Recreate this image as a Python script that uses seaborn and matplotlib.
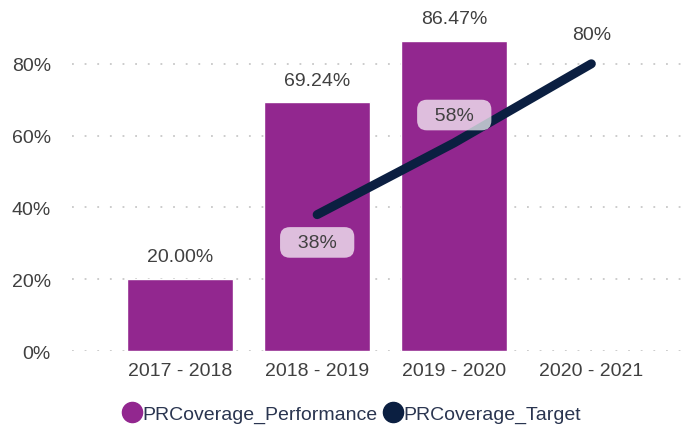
import numpy as np
import pandas as pd
import seaborn as sns
import matplotlib.pyplot as plt
from matplotlib.lines import Line2D

# data
years = ['2017 - 2018', '2018 - 2019', '2019 - 2020', '2020 - 2021']
performance = [0.20, 0.6924, 0.8647, np.nan]
target_years = ['2018 - 2019', '2019 - 2020', '2020 - 2021']
target = [0.38, 0.58, 0.80]
yticks = [0, 0.2, 0.4, 0.6, 0.8]

bar_color = '#92278F'
line_color = '#0B1F41'
text_color = '#404040'
fs = 14

sns.set_theme(style='white')
plt.rcParams['font.family'] = ['Liberation Sans', 'DejaVu Sans']

df = pd.DataFrame({'Year': years, 'PRCoverage_Performance': performance})

fig = plt.figure(figsize=(6.97, 4.31), dpi=100)
ax = fig.add_axes([0.103, 0.183, 0.887, 0.775])

sns.barplot(data=df, x='Year', y='PRCoverage_Performance', color=bar_color,
            saturation=1, width=0.77, ax=ax, zorder=2)

# bar labels
for i, v in enumerate(performance):
    if not np.isnan(v):
        ax.annotate(f'{v*100:.2f}%', (i, v), xytext=(0, 10), textcoords='offset points',
                    ha='center', va='bottom', fontsize=fs, color=text_color)

# target line
tx = [years.index(y) for y in target_years]
sns.lineplot(x=tx, y=target, color=line_color, linewidth=6.5, ax=ax, zorder=3,
             solid_capstyle='round')

offsets = [(0, -20), (0, 20), (0, 15)]
for x, v, off in zip(tx, target, offsets):
    lab = f'{v*100:.0f}%'
    if x < 3:
        ax.annotate(f'  {lab}  ', (x, v), xytext=off, textcoords='offset points',
                    ha='center', va='center', fontsize=fs, color=text_color, zorder=5,
                    bbox=dict(boxstyle='round,pad=0.35,rounding_size=0.5',
                              fc='white', ec='none', alpha=0.7))
    else:
        ax.annotate(lab, (x, v), xytext=off, textcoords='offset points',
                    ha='center', va='bottom', fontsize=fs, color=text_color, zorder=5)

ax.set_ylim(0, 0.93)
ax.set_xlim(-0.79, 3.72)
ax.set_yticks(yticks)
ax.set_yticklabels([f'{int(t*100)}%' for t in yticks])
ax.set_xlabel('')
ax.set_ylabel('')
ax.tick_params(axis='y', length=0, pad=15, labelsize=fs, labelcolor=text_color)
ax.tick_params(axis='x', length=0, pad=8, labelsize=fs, labelcolor=text_color)
ax.yaxis.grid(True, color='#c8c8c8', linewidth=1.3, linestyle=(0, (1, 6)), zorder=0)
ax.set_axisbelow(True)
sns.despine(ax=ax, left=True, bottom=True)

handles = [
    Line2D([], [], marker='o', linestyle='', markersize=14.5, color=bar_color),
    Line2D([], [], marker='o', linestyle='', markersize=14.5, color=line_color),
]
fig.legend(handles, ['PRCoverage_Performance', 'PRCoverage_Target'],
           loc='center', bbox_to_anchor=(0.505, 0.037), ncol=2, frameon=False,
           fontsize=fs, handlelength=0.9, handletextpad=0.1, columnspacing=0.35,
           labelcolor='#2a3550')

fig.savefig('out.png', dpi=100)
